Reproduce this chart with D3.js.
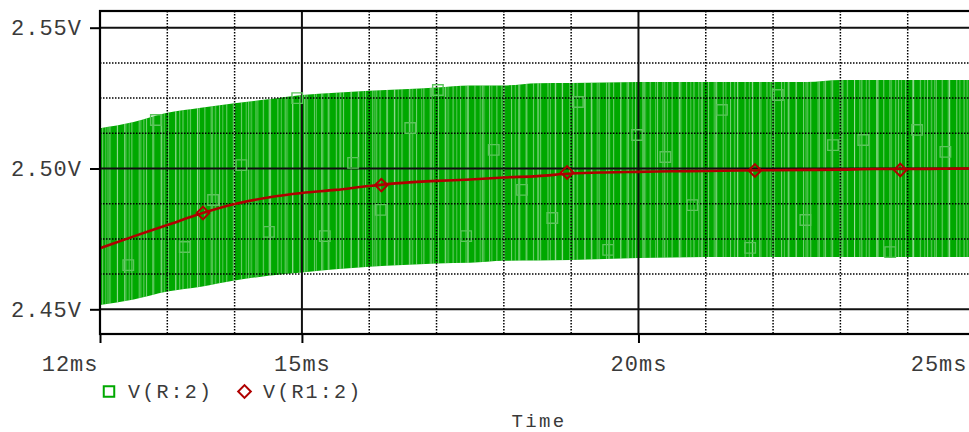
<!DOCTYPE html>
<html>
<head>
<meta charset="utf-8">
<script src="https://cdn.jsdelivr.net/npm/d3@7/dist/d3.min.js"></script>
<style>
  body { margin: 0; background: #fff; }
  svg { display: block; }
  .mono { font-family: "Liberation Mono", "DejaVu Sans Mono", monospace; fill: #3a3a3a; }
</style>
</head>
<body>
<div id="chart"></div>
<script>
const width = 969;
const height = 432;
const plot = { left: 100, right: 975, top: 11, bottom: 334 };

// axis ticks
const xMajor = [12, 15, 20, 25];
const xMajorLabels = ['12ms', '15ms', '20ms', '25ms'];
const xMinor = [13, 14, 16, 17, 18, 19, 21, 22, 23, 24];
const yMajor = [2.45, 2.5, 2.55];
const yMajorLabels = ['2.45V', '2.50V', '2.55V'];
const yMinor = [2.4625, 2.475, 2.4875, 2.5125, 2.525, 2.5375];

// sample times (ms) for the traces
const sampleTime = [12, 12.5, 13, 13.5, 14, 14.5, 15, 15.5, 16, 16.5, 17, 17.5, 18, 18.5,
  19, 19.5, 20, 20.5, 21, 21.5, 22, 22.5, 23, 23.5, 24, 24.5, 25];

// V(R:2) — peak and trough of the fast oscillation
const greenHigh = [2.5143, 2.5165, 2.5198, 2.5216, 2.5232, 2.5246, 2.5261, 2.5269, 2.5276,
  2.5281, 2.5288, 2.5295, 2.5295, 2.5303, 2.5304, 2.5305, 2.5307, 2.5307, 2.5307, 2.5307,
  2.5307, 2.5307, 2.5314, 2.5314, 2.5314, 2.5314, 2.5314];
const greenLow = [2.4515, 2.4535, 2.4563, 2.458, 2.4602, 2.4619, 2.4631, 2.4642, 2.4651,
  2.4657, 2.4663, 2.4665, 2.4672, 2.4673, 2.4675, 2.4679, 2.4682, 2.4684, 2.4686, 2.4686,
  2.4686, 2.4686, 2.4686, 2.4686, 2.4686, 2.4686, 2.4686];

// V(R1:2)
const redValue = [2.4717, 2.4759, 2.4799, 2.484, 2.4874, 2.4897, 2.4913, 2.4924, 2.4938,
  2.4949, 2.4956, 2.4961, 2.4968, 2.4973, 2.4982, 2.4986, 2.4988, 2.499, 2.4991, 2.4993,
  2.4994, 2.4995, 2.4996, 2.4998, 2.4998, 2.4999, 2.5];

// trace markers
const greenMarkTime = [12.42, 12.83, 13.26, 13.68, 14.1, 14.51, 14.93, 15.34, 15.76, 16.17,
  16.61, 17.02, 17.44, 17.85, 18.27, 18.72, 19.1, 19.55, 19.98, 20.4, 20.8, 21.24, 21.66,
  22.07, 22.48, 22.89, 23.34, 23.74, 24.14, 24.56];
const greenMarkValue = [2.4657, 2.5172, 2.4721, 2.4888, 2.5012, 2.4775, 2.525, 2.476, 2.502,
  2.4853, 2.5144, 2.5279, 2.476, 2.5066, 2.4924, 2.4824, 2.5236, 2.4711, 2.5119, 2.5041,
  2.487, 2.5208, 2.4718, 2.5261, 2.4817, 2.5083, 2.5101, 2.4703, 2.5137, 2.5059];
const redMarkTime = [13.53, 16.18, 18.94, 21.73, 23.89];
const redMarkValue = [2.4842, 2.4941, 2.4986, 2.4993, 2.4995];

const GREEN = '#00a800';
const RED = '#b00000';

const svg = d3.select('#chart').append('svg')
  .attr('width', width).attr('height', height);

const xScale = d3.scaleLinear().domain([12, 25]).range([plot.left, plot.right]);
const yScale = d3.scaleLinear().domain([2.45, 2.55]).range([309.3, 27.7]);

const defs = svg.append('defs');
defs.append('clipPath').attr('id', 'clip').append('rect')
  .attr('x', plot.left).attr('y', plot.top)
  .attr('width', plot.right - plot.left).attr('height', plot.bottom - plot.top);

// light streaks to mimic the dense waveform
[[7.3, 1, 0.5], [11.7, 0.9, 0.4], [17.9, 1.3, 0.35]].forEach(([w, lw, op], i) => {
  defs.append('pattern').attr('id', 'streak' + i)
    .attr('patternUnits', 'userSpaceOnUse').attr('width', w).attr('height', 20)
    .append('rect').attr('x', 0).attr('y', 0).attr('width', lw).attr('height', 20)
    .attr('fill', '#eaf7ea').attr('opacity', op);
});

const g = svg.append('g').attr('clip-path', 'url(#clip)');

// V(R:2) band
const green = sampleTime.map((t, i) => ({ t, hi: greenHigh[i], lo: greenLow[i] }));
const area = d3.area()
  .x(d => xScale(d.t)).y0(d => yScale(d.lo)).y1(d => yScale(d.hi))
  .curve(d3.curveMonotoneX);
g.append('path').datum(green).attr('d', area).attr('fill', GREEN);
[0, 1, 2].forEach(i => {
  g.append('path').datum(green).attr('d', area).attr('fill', `url(#streak${i})`);
});

// grid
const grid = g.append('g');
grid.selectAll('.hminor').data(yMinor).join('line')
  .attr('x1', plot.left).attr('x2', plot.right)
  .attr('y1', d => yScale(d)).attr('y2', d => yScale(d))
  .attr('stroke', '#000').attr('stroke-width', 1.5).attr('stroke-dasharray', '1.5,1.5');
grid.selectAll('.vminor').data(xMinor).join('line')
  .attr('y1', plot.top).attr('y2', plot.bottom)
  .attr('x1', d => xScale(d)).attr('x2', d => xScale(d))
  .attr('stroke', '#000').attr('stroke-width', 1.5).attr('stroke-dasharray', '1.5,1.5');
grid.selectAll('.hmajor').data(yMajor).join('line')
  .attr('x1', plot.left).attr('x2', plot.right)
  .attr('y1', d => yScale(d)).attr('y2', d => yScale(d))
  .attr('stroke', '#111').attr('stroke-width', 2);
grid.selectAll('.vmajor').data(xMajor).join('line')
  .attr('y1', plot.top).attr('y2', plot.bottom)
  .attr('x1', d => xScale(d)).attr('x2', d => xScale(d))
  .attr('stroke', '#111').attr('stroke-width', 2);

// green markers
const squareSym = d3.symbol().type(d3.symbolSquare).size(110);
g.selectAll('.gm').data(greenMarkTime).join('path')
  .attr('transform', (d, i) => `translate(${xScale(d)},${yScale(greenMarkValue[i])})`)
  .attr('d', squareSym).attr('fill', 'none')
  .attr('stroke', '#5cc45c').attr('stroke-width', 1.4);

// V(R1:2)
const red = sampleTime.map((t, i) => ({ t, v: redValue[i] }));
g.append('path').datum(red)
  .attr('d', d3.line().x(d => xScale(d.t)).y(d => yScale(d.v)).curve(d3.curveMonotoneX))
  .attr('fill', 'none').attr('stroke', RED).attr('stroke-width', 2.6);
const diamondSym = d3.symbol().type(d3.symbolSquare).size(80);
g.selectAll('.rm').data(redMarkTime).join('path')
  .attr('transform', (d, i) => `translate(${xScale(d)},${yScale(redMarkValue[i])}) rotate(45)`)
  .attr('d', diamondSym).attr('fill', 'none')
  .attr('stroke', RED).attr('stroke-width', 2);

// frame
svg.append('rect')
  .attr('x', plot.left).attr('y', plot.top)
  .attr('width', plot.right - plot.left).attr('height', plot.bottom - plot.top)
  .attr('fill', 'none').attr('stroke', '#000').attr('stroke-width', 2.2);

// axes
const yAxis = d3.axisLeft(yScale).tickValues(yMajor)
  .tickFormat((d, i) => yMajorLabels[i]).tickSize(10).tickPadding(8);
const ya = svg.append('g').attr('transform', `translate(${plot.left},0)`).call(yAxis);
ya.select('.domain').remove();
ya.selectAll('line').attr('stroke', '#000').attr('stroke-width', 2);
ya.selectAll('text').attr('class', 'mono').attr('font-size', 22)
  .style('letter-spacing', '1px').attr('fill', null).attr('font-family', null);

const xAxis = d3.axisBottom(xScale).tickValues(xMajor)
  .tickFormat((d, i) => xMajorLabels[i]).tickSize(9).tickPadding(12);
const xa = svg.append('g').attr('transform', `translate(0,${plot.bottom})`).call(xAxis);
xa.select('.domain').remove();
xa.selectAll('line').attr('stroke', '#000').attr('stroke-width', 2);
const lastTick = xMajor.length - 1;
xa.selectAll('text').attr('class', 'mono').attr('font-size', 22)
  .style('letter-spacing', '1px').attr('fill', null).attr('font-family', null)
  .attr('text-anchor', (d, i) => (i === 0 || i === lastTick) ? 'end' : 'middle')
  .attr('dx', (d, i) => i === 0 ? -2 : i === lastTick ? -(plot.right - width) - 2 : 0);

// legend
const legend = svg.append('g');
legend.append('path').attr('transform', 'translate(109,391.5)')
  .attr('d', d3.symbol().type(d3.symbolSquare).size(110)())
  .attr('fill', 'none').attr('stroke', GREEN).attr('stroke-width', 2);
legend.append('text').attr('class', 'mono').attr('x', 128).attr('y', 398)
  .attr('font-size', 20).style('letter-spacing', '2.2px').text('V(R:2)');
legend.append('path').attr('transform', 'translate(244.5,391.5) rotate(45)')
  .attr('d', d3.symbol().type(d3.symbolSquare).size(80)())
  .attr('fill', 'none').attr('stroke', RED).attr('stroke-width', 2);
legend.append('text').attr('class', 'mono').attr('x', 263).attr('y', 398)
  .attr('font-size', 20).style('letter-spacing', '2.2px').text('V(R1:2)');

svg.append('text').attr('class', 'mono').attr('x', 539).attr('y', 427)
  .attr('text-anchor', 'middle').attr('font-size', 19).style('letter-spacing', '2.4px')
  .text('Time');
</script>
</body>
</html>
